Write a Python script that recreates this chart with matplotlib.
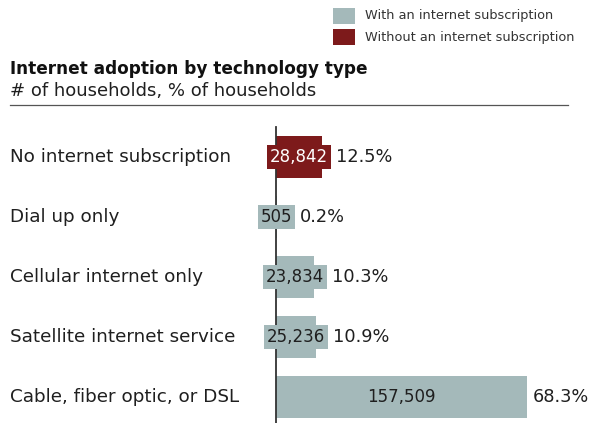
import matplotlib
matplotlib.use("Agg")
import matplotlib.pyplot as plt
from matplotlib.patches import Rectangle
import matplotlib.transforms as mtransforms

categories = ["No internet subscription", "Dial up only", "Cellular internet only",
              "Satellite internet service", "Cable, fiber optic, or DSL"]
households = [28842, 505, 23834, 25236, 157509]
percent = [12.5, 0.2, 10.3, 10.9, 68.3]
has_subscription = [False, True, True, True, True]

legend_labels = ["With an internet subscription", "Without an internet subscription"]
title = "Internet adoption by technology type"
subtitle = "# of households, % of households"

GREY = "#a4b9ba"
RED = "#7d1a1b"
TEXT = "#1f1f1f"
FONT = "DejaVu Sans"

W, H = 591, 423
fig = plt.figure(figsize=(W / 100, H / 100), dpi=100)
plt.rcParams["font.family"] = FONT


def fx(px):
    return px / W


def fy(py):
    return 1 - py / H


# plot area: axis line at x=276 px, runs from y=127 px to the bottom
ax = fig.add_axes([fx(276), 0, fx(W) - fx(276), fy(127)])
ax.set_xlim(0, max(households) * (W - 276) / (527 - 276))
ax.set_ylim(len(categories) - 1 + 0.433, -0.5)
for s in ["top", "right", "bottom"]:
    ax.spines[s].set_visible(False)
ax.spines["left"].set_color("#333333")
ax.spines["left"].set_linewidth(1.3)
ax.set_xticks([])
ax.set_yticks([])
ax.patch.set_alpha(0)

ypos = list(range(len(categories)))
colors = [GREY if h else RED for h in has_subscription]
ax.barh(ypos, households, height=0.7, color=colors, zorder=1)

trans_lbl = mtransforms.blended_transform_factory(fig.transFigure, ax.transData)
value_texts = []
for y, cat, val, col, h in zip(ypos, categories, households, colors, has_subscription):
    ax.text(fx(10), y, cat, transform=trans_lbl, ha="left", va="center",
            fontsize=13.2, color=TEXT)
    t = ax.text(val / 2, y, f"{val:,}", ha="center", va="center", fontsize=12,
                color=TEXT if h else "white", zorder=3,
                bbox=dict(boxstyle="square,pad=0.18", fc=col, ec="none"))
    value_texts.append(t)

fig.canvas.draw()
renderer = fig.canvas.get_renderer()
for y, val, pct, t in zip(ypos, households, percent, value_texts):
    box_right = t.get_bbox_patch().get_window_extent(renderer).x1 + 5
    bar_right = ax.transData.transform((val, y))[0] + 6
    xr = max(box_right, bar_right)
    xd = ax.transData.inverted().transform((xr, 0))[0]
    ax.text(xd, y, f"{pct}%", ha="left", va="center", fontsize=12.8, color=TEXT,
            clip_on=False)

# header
fig.text(fx(10), fy(69), title, fontsize=12.2, fontweight="bold", color="#111111",
         ha="left", va="center")
fig.text(fx(10), fy(91), subtitle, fontsize=13, color=TEXT, ha="left", va="center")
fig.add_artist(plt.Line2D([fx(10), fx(568)], [fy(105), fy(105)],
                          transform=fig.transFigure, color="#555555", lw=0.9))

# legend
for i, (lab, col) in enumerate(zip(legend_labels, [GREY, RED])):
    yc = 16 + i * 21
    fig.add_artist(Rectangle((fx(333), fy(yc + 8)), fx(22), 16 / H,
                             transform=fig.transFigure, fc=col, ec="none"))
    fig.text(fx(365), fy(yc), lab, fontsize=9.3, color="#333333",
             ha="left", va="center")

fig.savefig("out.png", dpi=100)
